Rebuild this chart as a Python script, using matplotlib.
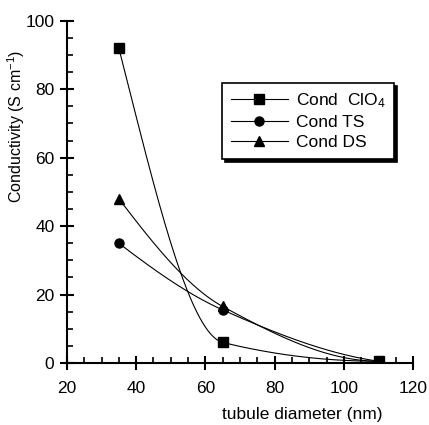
import numpy as np
import matplotlib
matplotlib.use("Agg")
import matplotlib.pyplot as plt
from matplotlib.ticker import MultipleLocator

# data
diameter = [35, 65, 110]
cond_clo4 = [92, 6, 0.5]
cond_ts = [35, 15.5, 0.5]
cond_ds = [48, 16.5, 0.5]


def pchip(x, y, n=200):
    # monotone cubic smoothing through the points (like the original smooth curves)
    x = np.asarray(x, float)
    y = np.asarray(y, float)
    h = np.diff(x)
    d = np.diff(y) / h
    m = np.zeros_like(y)
    for k in range(1, len(x) - 1):
        if d[k - 1] * d[k] > 0:
            w1 = 2 * h[k] + h[k - 1]
            w2 = h[k] + 2 * h[k - 1]
            m[k] = (w1 + w2) / (w1 / d[k - 1] + w2 / d[k])
    m0 = ((2 * h[0] + h[1]) * d[0] - h[0] * d[1]) / (h[0] + h[1])
    m[0] = m0 if np.sign(m0) == np.sign(d[0]) else 0
    mn = ((2 * h[-1] + h[-2]) * d[-1] - h[-1] * d[-2]) / (h[-1] + h[-2])
    m[-1] = mn if np.sign(mn) == np.sign(d[-1]) else 0
    xs, ys = [], []
    for k in range(len(x) - 1):
        t = np.linspace(0, 1, n)
        h00 = 2 * t**3 - 3 * t**2 + 1
        h10 = t**3 - 2 * t**2 + t
        h01 = -2 * t**3 + 3 * t**2
        h11 = t**3 - t**2
        xs.append(x[k] + t * h[k])
        ys.append(h00 * y[k] + h10 * h[k] * m[k] + h01 * y[k + 1] + h11 * h[k] * m[k + 1])
    return np.concatenate(xs), np.concatenate(ys)


plt.rcParams["font.family"] = ["Liberation Sans", "DejaVu Sans"]
plt.rcParams["mathtext.fontset"] = "custom"
plt.rcParams["mathtext.rm"] = "Liberation Sans"
plt.rcParams["mathtext.default"] = "regular"

fig = plt.figure(figsize=(4.29, 4.25), dpi=100)
ax = fig.add_axes([0.156, 0.146, 0.807, 0.805])

series = [
    (cond_clo4, "s", "Cond  ClO$_4$"),
    (cond_ts, "o", "Cond TS"),
    (cond_ds, "^", "Cond DS"),
]
for vals, mk, lab in series:
    cx, cy = pchip(diameter, vals)
    ax.plot(cx, cy, color="black", lw=0.8)
    ax.plot(diameter, vals, linestyle="none", marker=mk, color="black", markersize=6.5)
    ax.plot([], [], color="black", lw=0.8, marker=mk, markersize=6.5, label=lab)

ax.set_xlim(20, 120)
ax.set_ylim(0, 100)
ax.xaxis.set_major_locator(MultipleLocator(20))
ax.xaxis.set_minor_locator(MultipleLocator(5))
ax.yaxis.set_major_locator(MultipleLocator(20))
ax.yaxis.set_minor_locator(MultipleLocator(5))

ax.spines["top"].set_visible(False)
ax.spines["right"].set_visible(False)
ax.spines["left"].set_linewidth(1.5)
ax.spines["bottom"].set_linewidth(1.5)
ax.tick_params(which="major", direction="inout", length=10, width=1.5, labelsize=12.5)
ax.tick_params(axis="x", which="major", pad=8)
ax.tick_params(axis="y", which="major", pad=4)
ax.tick_params(which="minor", direction="in", length=4, width=1.2)

ax.set_xlabel("tubule diameter (nm)", fontsize=12.5)
ax.xaxis.set_label_coords(0.68, -0.128)
ax.set_ylabel("Conductivity (S cm$^{-1}$)", fontsize=11.5)
ax.yaxis.set_label_coords(-0.115, 0.69)

leg = ax.legend(loc="upper left", bbox_to_anchor=(0.448, 0.819), fontsize=12.5,
                frameon=True, fancybox=False, shadow={"color": "black", "alpha": 1},
                handlelength=3.3, handletextpad=0.45, borderpad=0.5, labelspacing=0.28,
                borderaxespad=0)
leg.get_frame().set_edgecolor("black")
leg.get_frame().set_linewidth(1.2)

fig.savefig("out.png", dpi=100)
